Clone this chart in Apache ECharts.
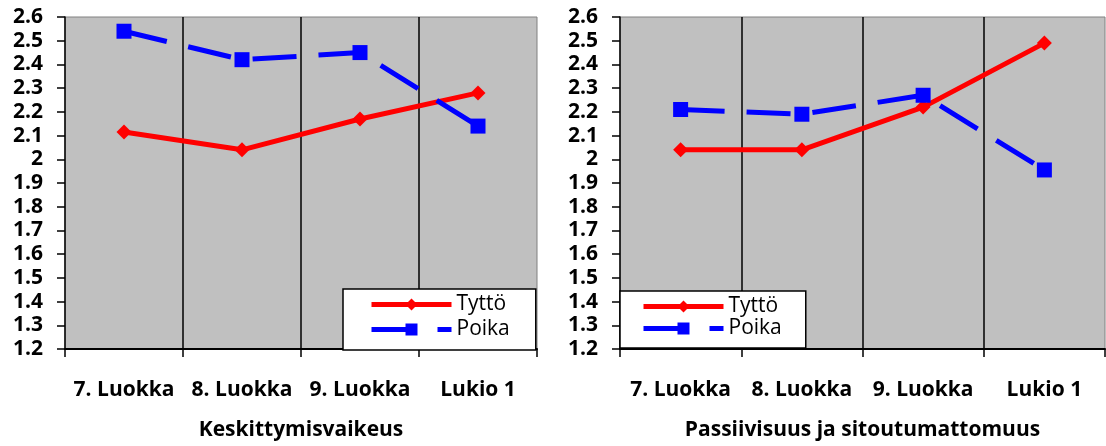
<!DOCTYPE html>
<html>
<head>
<meta charset="utf-8">
<script src="https://cdn.jsdelivr.net/npm/echarts@6/dist/echarts.min.js"></script>
<style>
html,body{margin:0;padding:0;background:#fff;}
#chart{width:1106px;height:446px;}
</style>
</head>
<body>
<div id="chart"></div>
<script>
const categories = ['7. Luokka', '8. Luokka', '9. Luokka', 'Lukio 1'];
const seriesNames = ['Tyttö', 'Poika'];
const panelTitles = ['Keskittymisvaikeus', 'Passiivisuus ja sitoutumattomuus'];
const leftTytto = [2.115, 2.04, 2.17, 2.28];
const leftPoika = [2.54, 2.42, 2.45, 2.14];
const rightTytto = [2.04, 2.04, 2.22, 2.49];
const rightPoika = [2.21, 2.19, 2.27, 1.955];
const yMin = 1.2, yMax = 2.6, yStep = 0.1;

const FONT = '"Open Sans"';
const grids = [
  {left: 65, right: 569, top: 17, bottom: 97},
  {left: 620, right: 1, top: 17, bottom: 97}
];

function xAxis(i) {
  return {
    type: 'category', gridIndex: i, data: categories, boundaryGap: true,
    name: panelTitles[i], nameLocation: 'middle', nameGap: 71,
    nameTextStyle: {fontFamily: FONT, fontWeight: 'bold', fontSize: 21, color: '#000'},
    axisLine: {show: true, lineStyle: {color: '#000', width: 2}},
    axisTick: {show: true, interval: 0, alignWithLabel: false, length: 8, lineStyle: {color: '#000', width: 1.5}},
    axisLabel: {interval: 0, hideOverlap: false, fontFamily: FONT, fontWeight: 'bold', fontSize: 21, color: '#000', margin: 31},
    splitLine: {show: true, interval: 0, showMinLine: false, showMaxLine: false, lineStyle: {color: '#000', width: 1.5}}
  };
}
function yAxis(i) {
  return {
    type: 'value', gridIndex: i, min: yMin, max: yMax, interval: yStep,
    axisLine: {show: true, lineStyle: {color: '#000', width: 1.5}},
    axisTick: {show: true, length: 8, lineStyle: {color: '#000', width: 1.5}},
    axisLabel: {fontFamily: FONT, fontWeight: 'bold', fontSize: 21, color: '#000', margin: 22,
      formatter: v => String(+v.toFixed(1))},
    splitLine: {show: false}
  };
}
function lineSeries(name, data, i, color, symbol, dashed) {
  return {
    name, type: 'line', xAxisIndex: i, yAxisIndex: i, data,
    symbol, symbolSize: 15, showSymbol: true,
    lineStyle: {color, width: 5, type: dashed ? [44, 22] : 'solid', cap: 'butt'},
    itemStyle: {color},
    animation: false
  };
}
function legend(i, pos, pad, gap) {
  return {
    orient: 'vertical', left: pos[0], top: pos[1], data: seriesNames,
    itemWidth: 80, itemHeight: 15, itemGap: gap, padding: pad,
    backgroundColor: '#fff', borderColor: '#000', borderWidth: 1.5, borderRadius: 0,
    lineStyle: {width: 'inherit'},
    textStyle: {fontFamily: FONT, fontSize: 21, color: '#000'},
    selectedMode: false
  };
}

const chart = echarts.init(document.getElementById('chart'), null, {renderer: 'canvas'});
chart.setOption({
  animation: false,
  backgroundColor: '#fff',
  grid: grids.map(g => Object.assign({show: true, containLabel: false, outerBoundsMode: 'none',
    backgroundColor: '#C0C0C0', borderColor: '#808080', borderWidth: 1}, g)),
  xAxis: [xAxis(0), xAxis(1)],
  yAxis: [yAxis(0), yAxis(1)],
  legend: [legend(0, [343, 289], [5, 26, 10, 26], 4), legend(1, [620, 291], [5, 24, 9, 21], 1)],
  series: [
    lineSeries(seriesNames[0], leftTytto, 0, '#FF0000', 'diamond', false),
    lineSeries(seriesNames[1], leftPoika, 0, '#0000FF', 'rect', true),
    lineSeries(seriesNames[0], rightTytto, 1, '#FF0000', 'diamond', false),
    lineSeries(seriesNames[1], rightPoika, 1, '#0000FF', 'rect', true)
  ]
});
</script>
</body>
</html>
